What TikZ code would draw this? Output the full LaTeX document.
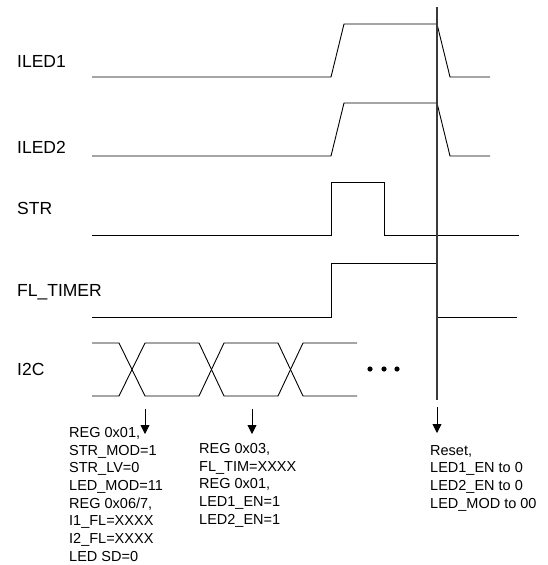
\documentclass[tikz,border=0pt]{standalone}
\usepackage{fontspec}
\setmainfont{Liberation Sans}
\usetikzlibrary{arrows.meta}
\definecolor{reset_gray}{HTML}{3A3A3A}

\begin{document}
\begin{tikzpicture}[x=1pt, y=-1pt,
        sig/.style={line width=0.9pt, black, line join=miter},
        signame/.style={anchor=base west, inner sep=0pt, font=\fontsize{17.5}{20}\selectfont},
        regtext/.style={anchor=north west, inner sep=0pt, align=left, font=\fontsize{14.5}{17.7}\selectfont},
        evarrow/.style={line width=0.9pt, -{Triangle[length=9pt, width=9pt]}}]
        \useasboundingbox (0,0) rectangle (548,565);

        % signal names
        \node[signame] (iled1) at (17, 67) {ILED1};
        \node[signame] (iled2) at (17, 153) {ILED2};
        \node[signame] (str) at (17, 214) {STR};
        \node[signame] (fltimer) at (17, 296) {FL\_TIMER};
        \node[signame] (i2c) at (17, 375) {I2C};

        % waveforms
        \draw[sig] (92, 77) -- (331, 77) -- (344, 24) -- (437, 24) -- (450, 77) -- (490, 77);
        \draw[sig] (92, 156) -- (331, 156) -- (344, 103) -- (437, 103) -- (450, 156) -- (490, 156);
        \draw[sig] (92, 235) -- (331, 235) -- (331, 182) -- (384, 182) -- (384, 235) -- (519, 235);
        \draw[sig] (92, 317) -- (331, 317) -- (331, 263) -- (437, 263) -- (437, 317) -- (517, 317);

        % bus
        \draw[sig] (92, 343) -- (119, 343) -- (145, 396) -- (199, 396) -- (224, 343)
                -- (278, 343) -- (303, 396) -- (357, 396);
        \draw[sig] (92, 396) -- (119, 396) -- (145, 343) -- (199, 343) -- (224, 396)
                -- (278, 396) -- (303, 343) -- (357, 343);
        \foreach \x in {370, 384, 397}
                \fill (\x, 369) circle (2.6);

        % reset marker
        \coordinate (rtop) at (437, 7);
        \coordinate (rbot) at (437, 400);
        \draw[line width=1.3pt, reset_gray] (rtop) -- (rbot);

        % events
        \coordinate (e1) at (145, 409);
        \coordinate (e1tip) at (145, 434);
        \coordinate (e2) at (252, 409);
        \coordinate (e2tip) at (252, 434);
        \coordinate (e3) at (437, 407);
        \coordinate (e3tip) at (437, 433);
        \draw[evarrow] (e1) -- (e1tip);
        \draw[evarrow] (e2) -- (e2tip);
        \draw[evarrow] (e3) -- (e3tip);

        \node[regtext] (cfg) at (69, 427) {REG 0x01,\\STR\_MOD=1\\STR\_LV=0\\LED\_MOD=11\\REG 0x06/7,\\I1\_FL=XXXX\\I2\_FL=XXXX\\LED SD=0};
        \node[regtext] (tim) at (199, 443) {REG 0x03,\\FL\_TIM=XXXX\\REG 0x01,\\LED1\_EN=1\\LED2\_EN=1};
        \node[regtext] (rst) at (430, 445) {Reset,\\LED1\_EN to 0\\LED2\_EN to 0\\LED\_MOD to 00};

\end{tikzpicture}
\end{document}
